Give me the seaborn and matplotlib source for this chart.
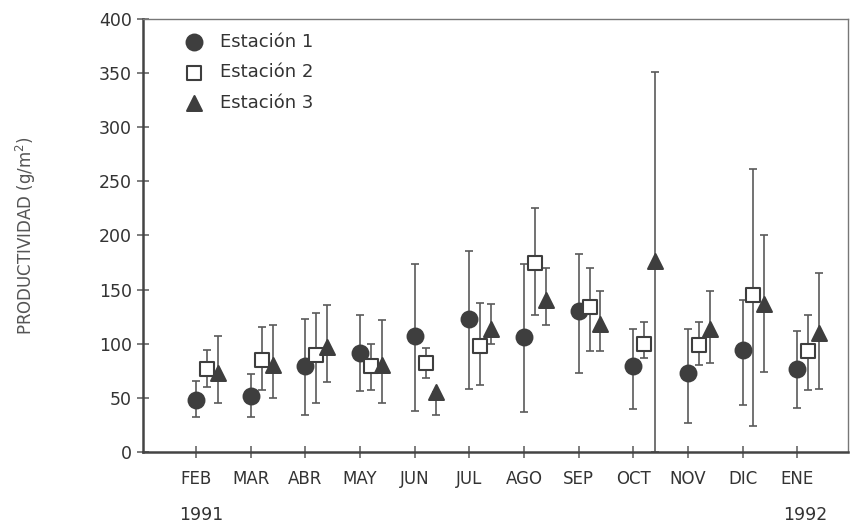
import numpy as np
import pandas as pd
import matplotlib
matplotlib.use("Agg")
import matplotlib.pyplot as plt
import matplotlib.transforms as mtransforms
import seaborn as sns

# Datos (productividad g/m2)
meses = ['FEB', 'MAR', 'ABR', 'MAY', 'JUN', 'JUL', 'AGO', 'SEP', 'OCT', 'NOV', 'DIC', 'ENE']

est1 = [48, 52, 79, 91, 107, 123, 106, 130, 79, 73, 94, 77]
est1_hi = [66, 72, 123, 127, 174, 186, 174, 183, 114, 114, 140, 112]
est1_lo = [32, 32, 34, 56, 38, 58, 37, 73, 40, 27, 43, 41]

est2 = [77, 85, 90, 79, 82, 98, 175, 134, 100, 99, 145, 93]
est2_hi = [94, 115, 128, 100, 96, 138, 225, 170, 120, 120, 261, 127]
est2_lo = [60, 57, 45, 57, 68, 62, 127, 93, 87, 80, 24, 57]

est3 = [73, 80, 97, 80, 55, 114, 140, 118, 176, 114, 137, 110]
est3_hi = [107, 117, 136, 122, 55, 137, 170, 149, 351, 149, 200, 165]
est3_lo = [45, 50, 65, 45, 34, 100, 117, 93, 0, 82, 74, 58]

anios = ['1991', '1992']

sns.set_style("ticks")
plt.rcParams['font.family'] = ['DejaVu Sans']

gris = '#3e3e3e'
linea = '#5a5a5a'
texto = '#333333'

fig = plt.figure(figsize=(8.51, 5.28), dpi=100)
ax = fig.add_axes([0.168, 0.144, 0.8285, 0.82])

x = np.arange(len(meses))

series = [
    ('Estación 1', est1, est1_lo, est1_hi, 0.0, 'o', 130, gris),
    ('Estación 2', est2, est2_lo, est2_hi, 0.2, 's', 110, 'white'),
    ('Estación 3', est3, est3_lo, est3_hi, 0.4, '^', 115, gris),
]

for nombre, val, lo, hi, dx, mk, s, fc in series:
    val = np.array(val)
    yerr = [val - np.array(lo), np.array(hi) - val]
    ax.errorbar(x + dx, val, yerr=yerr, fmt='none', ecolor=linea,
                elinewidth=1.2, capsize=3, capthick=1.2, zorder=2)
    df = pd.DataFrame({'x': x + dx, 'y': val})
    sns.scatterplot(data=df, x='x', y='y', marker=mk, s=s, color=fc,
                    edgecolor=gris, linewidth=1.5, label=nombre, ax=ax, zorder=3)

ax.set_xlim(-0.97, 11.93)
ax.set_ylim(0, 400)
ax.set_yticks(np.arange(0, 401, 50))
ax.set_xticks(x)
ax.set_xticklabels(meses, fontsize=12)
ax.tick_params(axis='both', direction='inout', length=8, width=1.1, colors=linea,
               labelcolor=texto)
ax.tick_params(axis='y', labelsize=12.5, pad=4)
ax.tick_params(axis='x', pad=9)
ax.set_xlabel('')
ax.set_ylabel(r'PRODUCTIVIDAD (g/m$^2$)', fontsize=12, color='#555555', labelpad=44)

for lado in ['left', 'bottom']:
    ax.spines[lado].set_linewidth(1.8)
    ax.spines[lado].set_color('#444444')
for lado in ['top', 'right']:
    ax.spines[lado].set_linewidth(1.0)
    ax.spines[lado].set_color('#777777')

# anios bajo el eje
trans = mtransforms.blended_transform_factory(ax.transData, ax.transAxes)
ax.text(0.1, -0.145, anios[0], transform=trans, ha='center', va='center',
        fontsize=12.5, color=texto)
ax.text(11.15, -0.145, anios[1], transform=trans, ha='center', va='center',
        fontsize=12.5, color=texto)

leg = ax.legend(loc='upper left', bbox_to_anchor=(0.05, 0.985), frameon=False,
                fontsize=13, labelspacing=0.7, handletextpad=0.9,
                handlelength=1.0, borderaxespad=0)
for t in leg.get_texts():
    t.set_color(texto)

fig.savefig('out.png', dpi=100)
